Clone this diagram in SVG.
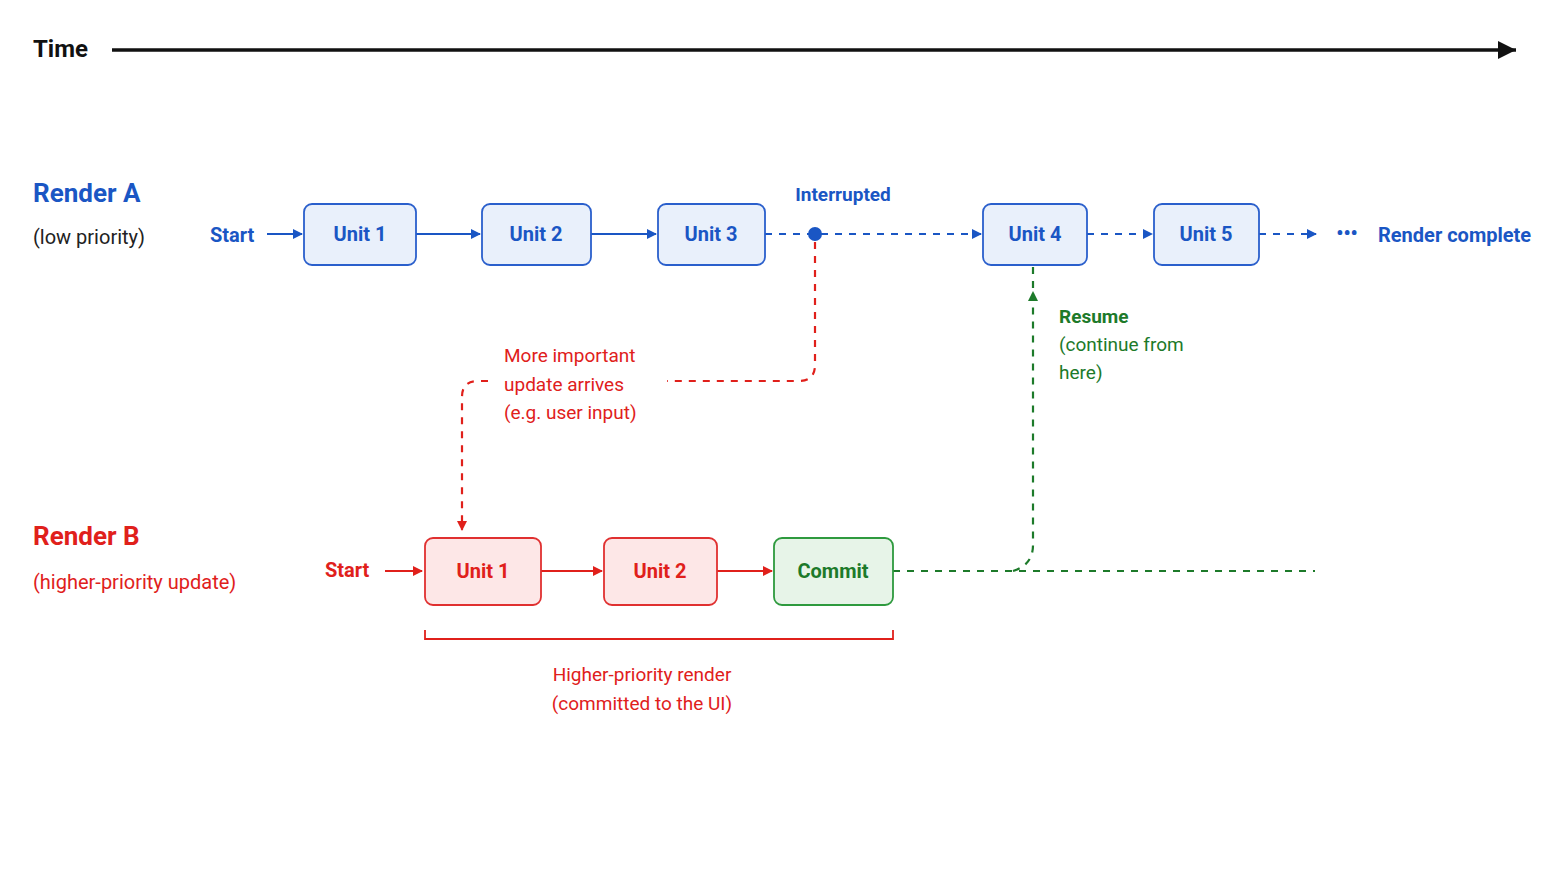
<svg xmlns="http://www.w3.org/2000/svg" width="1560" height="877" viewBox="0 0 1560 877">
<defs>
<style>
text{font-family:Roboto,"Liberation Sans",sans-serif}
.b{font-weight:bold}
.blue{fill:#1a56c4}.red{fill:#e0201b}.green{fill:#1d7a2a}
.boxA{fill:#e9f0fb;stroke:#2a5fcc;stroke-width:1.8}
.boxB{fill:#fde7e7;stroke:#e03030;stroke-width:1.8}
.boxC{fill:#e7f4e8;stroke:#2e9a3e;stroke-width:1.8}
.lt{font-size:20px;text-anchor:middle;font-weight:bold}
</style>
<marker id="ab" markerWidth="10" markerHeight="10" refX="9" refY="5" orient="auto" markerUnits="userSpaceOnUse" viewBox="0 0 10 10"><path d="M0,0L10,5L0,10Z" fill="#1a56c4"/></marker>
<marker id="ar" markerWidth="10" markerHeight="10" refX="9" refY="5" orient="auto" markerUnits="userSpaceOnUse" viewBox="0 0 10 10"><path d="M0,0L10,5L0,10Z" fill="#e0201b"/></marker>
<marker id="ag" markerWidth="10" markerHeight="10" refX="9" refY="5" orient="auto" markerUnits="userSpaceOnUse" viewBox="0 0 10 10"><path d="M0,0L10,5L0,10Z" fill="#1d7a2a"/></marker>
<marker id="ak" markerWidth="18" markerHeight="18" refX="18" refY="9" orient="auto" markerUnits="userSpaceOnUse" viewBox="0 0 18 18"><path d="M0,0L18,9L0,18Z" fill="#111"/></marker>
</defs>
<rect width="1560" height="877" fill="#fff"/>
<text x="33" y="57" font-size="24" class="b" fill="#111">Time</text>
<text x="33" y="202" font-size="26" class="b blue">Render A</text>
<text x="33" y="244" font-size="20" fill="#222">(low priority)</text>
<text x="210" y="242" font-size="20" class="b blue">Start</text>
<text x="843" y="201" font-size="19" class="b blue" text-anchor="middle">Interrupted</text>
<text x="1347" y="240" font-size="20" class="b blue" text-anchor="middle">•••</text>
<text x="1378" y="242" font-size="20" class="b blue">Render complete</text>
<text x="504" y="362" font-size="19" class="red">More important</text>
<text x="504" y="391" font-size="19" class="red">update arrives</text>
<text x="504" y="419" font-size="19" class="red">(e.g. user input)</text>
<text x="1059" y="323" font-size="19" class="b green">Resume</text>
<text x="1059" y="351" font-size="19" class="green">(continue from</text>
<text x="1059" y="379" font-size="19" class="green">here)</text>
<text x="33" y="545" font-size="26" class="b red">Render B</text>
<text x="33" y="589" font-size="20" class="red">(higher-priority update)</text>
<text x="325" y="577" font-size="20" class="b red">Start</text>
<text x="642" y="681" font-size="19" class="red" text-anchor="middle">Higher-priority render</text>
<text x="642" y="710" font-size="19" class="red" text-anchor="middle">(committed to the UI)</text>

<g id="connectors" fill="none" stroke-width="2.2">
<line x1="112" y1="50" x2="1516" y2="50" stroke="#111" stroke-width="3.5" marker-end="url(#ak)"/>
<g stroke="#1a56c4">
<line x1="267" y1="234" x2="302" y2="234" marker-end="url(#ab)"/>
<line x1="416" y1="234" x2="480" y2="234" marker-end="url(#ab)"/>
<line x1="591" y1="234" x2="656" y2="234" marker-end="url(#ab)"/>
<line x1="765" y1="234" x2="981" y2="234" stroke-dasharray="7,7" marker-end="url(#ab)"/>
<line x1="1087" y1="234" x2="1152" y2="234" stroke-dasharray="7,7" marker-end="url(#ab)"/>
<line x1="1259" y1="234" x2="1316" y2="234" stroke-dasharray="7,7" marker-end="url(#ab)"/>
</g>
<circle cx="815" cy="234" r="7" fill="#1a56c4" stroke="none"/>
<g stroke="#e0201b">
<path d="M815,242V365Q815,381 799,381H667" stroke-dasharray="7,7"/>
<path d="M488,381H478Q462,381 462,397V530" stroke-dasharray="7,7" marker-end="url(#ar)"/>
<line x1="385" y1="571" x2="422" y2="571" marker-end="url(#ar)"/>
<line x1="541" y1="571" x2="602" y2="571" marker-end="url(#ar)"/>
<line x1="717" y1="571" x2="772" y2="571" marker-end="url(#ar)"/>
<path d="M425,630V639H893V630" stroke-width="1.8"/>
</g>
<g stroke="#1d7a2a" stroke-dasharray="7,7">
<line x1="893" y1="571" x2="1315" y2="571"/>
<path d="M1013,571Q1033,565 1033,545V292" marker-end="url(#ag)"/>
<line x1="1033" y1="267" x2="1033" y2="290"/>
</g>
</g>

<g id="a1"><rect class="boxA" x="304" y="204" width="112" height="61" rx="8"/><text class="lt blue" x="360" y="241">Unit 1</text></g>
<g id="a2"><rect class="boxA" x="482" y="204" width="109" height="61" rx="8"/><text class="lt blue" x="536" y="241">Unit 2</text></g>
<g id="a3"><rect class="boxA" x="658" y="204" width="107" height="61" rx="8"/><text class="lt blue" x="711" y="241">Unit 3</text></g>
<g id="a4"><rect class="boxA" x="983" y="204" width="104" height="61" rx="8"/><text class="lt blue" x="1035" y="241">Unit 4</text></g>
<g id="a5"><rect class="boxA" x="1154" y="204" width="105" height="61" rx="8"/><text class="lt blue" x="1206" y="241">Unit 5</text></g>
<g id="b1"><rect class="boxB" x="425" y="538" width="116" height="67" rx="8"/><text class="lt red" x="483" y="578">Unit 1</text></g>
<g id="b2"><rect class="boxB" x="604" y="538" width="113" height="67" rx="8"/><text class="lt red" x="660" y="578">Unit 2</text></g>
<g id="commit"><rect class="boxC" x="774" y="538" width="119" height="67" rx="8"/><text class="lt green" x="833" y="578">Commit</text></g>
</svg>
